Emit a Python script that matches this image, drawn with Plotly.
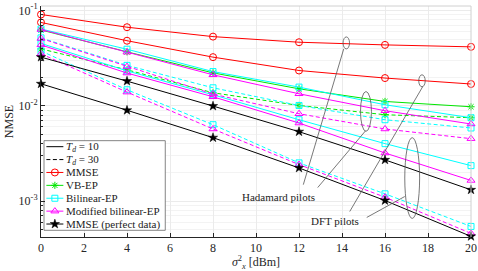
import numpy as np
import plotly.graph_objects as go

# ---------------- data ----------------
x_dbm = [0, 4, 8, 12, 16, 20]

mmse_hadamard = [0.0904, 0.0665, 0.0530, 0.0463, 0.0434, 0.0414]
mmse_dft = [0.0746, 0.0480, 0.0323, 0.0234, 0.0195, 0.0169]

vbep_td10 = [0.0622, 0.0367, 0.0221, 0.01505, 0.01109, 0.00976]
vbep_td30 = [0.0394, 0.0238, 0.01367, 0.01007, 0.00805, 0.00749]

bilinear_had_td10 = [0.0637, 0.0391, 0.0228, 0.01568, 0.01024, 0.00749]
bilinear_had_td30 = [0.0514, 0.0265, 0.01542, 0.01007, 0.00714, 0.00585]
bilinear_dft_td10 = [0.0450, 0.0232, 0.01303, 0.00714, 0.00401, 0.00236]
bilinear_dft_td30 = [0.0375, 0.01470, 0.00633, 0.00252, 0.001195, 0.000544]

modbil_had_td10 = [0.0630, 0.0364, 0.0211, 0.01335, 0.00887, 0.00644]
modbil_had_td30 = [0.0507, 0.0257, 0.01325, 0.00825, 0.00571, 0.00452]
modbil_dft_td10 = [0.0434, 0.0220, 0.01242, 0.00659, 0.00320, 0.00165]
modbil_dft_td30 = [0.0350, 0.01390, 0.00571, 0.00242, 0.001101, 0.000460]

perfect_upper = [0.0323, 0.01811, 0.00993, 0.00535, 0.00271, 0.001315]
perfect_lower = [0.01698, 0.00897, 0.00463, 0.00223, 0.001017, 0.000428]

legend_names = ["<i>T<sub>d</sub></i> = 10", "<i>T<sub>d</sub></i> = 30", "MMSE", "VB-EP",
                "Bilinear-EP", "Modified bilinear-EP", "MMSE (perfect data)"]
x_ticks = list(range(0, 21, 2))
y_ticks = [1e-3, 1e-2, 1e-1]
y_tick_text = ["10<sup>-3</sup>", "10<sup>-2</sup>", "10<sup>-1</sup>"]

# ---------------- styles ----------------
FONT = "Liberation Serif"
RED, GREEN, CYAN, MAG, BLK = "#ff0000", "#00e600", "#00ffff", "#ff00ff", "#000000"
DASH = "4px,2.5px"

sty = {
    "mmse": dict(color=RED, symbol="circle-open", size=7),
    "vbep": dict(color=GREEN, symbol="asterisk-open", size=6),
    "bil": dict(color=CYAN, symbol="square-open", size=6),
    "mod": dict(color=MAG, symbol="triangle-up-open", size=7),
    "perf": dict(color=BLK, symbol="star", size=7),
}

series = [
    (mmse_hadamard, "mmse", "solid"),
    (mmse_dft, "mmse", "solid"),
    (vbep_td10, "vbep", "solid"),
    (vbep_td30, "vbep", DASH),
    (bilinear_had_td10, "bil", "solid"),
    (bilinear_had_td30, "bil", DASH),
    (bilinear_dft_td10, "bil", "solid"),
    (bilinear_dft_td30, "bil", DASH),
    (modbil_had_td10, "mod", "solid"),
    (modbil_had_td30, "mod", DASH),
    (modbil_dft_td10, "mod", "solid"),
    (modbil_dft_td30, "mod", DASH),
    (perfect_upper, "perf", "solid"),
    (perfect_lower, "perf", "solid"),
]


def marker_for(key):
    s = sty[key]
    return dict(symbol=s["symbol"], size=s["size"], color=s["color"],
                line=dict(color=s["color"], width=1 if key != "perf" else 0.5))


fig = go.Figure()
for ys, key, dash in series:
    fig.add_trace(go.Scatter(
        x=x_dbm, y=ys, mode="lines+markers", showlegend=False,
        line=dict(color=sty[key]["color"], width=1, dash=dash),
        marker=marker_for(key), cliponaxis=False))

# ---------------- annotations (ellipses, pointer lines, labels) ----------------
ANN = "#555555"
ellipses = [  # (x0, x1, y0, y1) in data units
    (14.05, 14.35, 0.0394, 0.0526),
    (17.57, 17.87, 0.0158, 0.0211),
    (14.86, 15.37, 0.00539, 0.0141),
    (16.92, 17.61, 0.00066, 0.00463),
]
for x0, x1, y0, y1 in ellipses:
    fig.add_shape(type="circle", xref="x", yref="y", x0=x0, x1=x1, y0=y0, y1=y1,
                  line=dict(color=ANN, width=0.8))

pointers = [  # (xa, ya, xb, yb) in data units
    (14.08, 0.0394, 12.2, 0.00149),
    (15.1, 0.00548, 12.87, 0.00139),
    (17.75, 0.0158, 14.36, 0.00078),
    (16.92, 0.00112, 15.15, 0.000676),
]
for xa, ya, xb, yb in pointers:
    fig.add_shape(type="line", xref="x", yref="y", x0=xa, x1=xb, y0=ya, y1=yb,
                  line=dict(color=ANN, width=0.8))

fig.add_annotation(x=11.06, y=np.log10(0.0011), text="Hadamard pilots", showarrow=False,
                   font=dict(family=FONT, size=11, color="#222"))
fig.add_annotation(x=13.66, y=np.log10(0.000618), text="DFT pilots", showarrow=False,
                   font=dict(family=FONT, size=11, color="#222"))

# top/right light box edges
fig.add_shape(type="line", xref="paper", yref="paper", x0=0, x1=1, y0=1, y1=1,
              line=dict(color="#d0d0d0", width=1))
fig.add_shape(type="line", xref="paper", yref="paper", x0=1, x1=1, y0=0, y1=1,
              line=dict(color="#d0d0d0", width=1))

# ---------------- compact legend (box, samples, labels) on an overlay axis ----------------
LEG_X0, LEG_X1, LEG_Y0, LEG_Y1 = 0.007, 0.289, 0.029, 0.417
ROW_TOP, ROW_GAP = 0.391, 0.0558
SAMPLE_X0, SAMPLE_X1, TEXT_X = 0.0125, 0.052, 0.054
fig.add_trace(go.Scatter(
    x=[LEG_X0, LEG_X1, LEG_X1, LEG_X0, LEG_X0], y=[LEG_Y0, LEG_Y0, LEG_Y1, LEG_Y1, LEG_Y0],
    mode="lines", fill="toself", fillcolor="white", line=dict(color="#666666", width=0.8),
    xaxis="x2", yaxis="y2", showlegend=False, hoverinfo="skip"))
legend_keys = [None, None, "mmse", "vbep", "bil", "mod", "perf"]
legend_dash = ["solid", DASH, "solid", "solid", "solid", "solid", "solid"]
for i, (name, key, dash) in enumerate(zip(legend_names, legend_keys, legend_dash)):
    ry = ROW_TOP - i * ROW_GAP
    col = BLK if key is None else sty[key]["color"]
    fig.add_trace(go.Scatter(
        x=[SAMPLE_X0, SAMPLE_X1], y=[ry, ry], mode="lines",
        line=dict(color=col, width=1, dash=dash),
        xaxis="x2", yaxis="y2", showlegend=False, hoverinfo="skip"))
    if key is not None:
        fig.add_trace(go.Scatter(x=[(SAMPLE_X0 + SAMPLE_X1) / 2], y=[ry], mode="markers",
                                 xaxis="x2", yaxis="y2", showlegend=False,
                                 marker=marker_for(key), hoverinfo="skip"))
    fig.add_annotation(xref="paper", yref="paper", x=TEXT_X, y=ry, text=name,
                       showarrow=False, xanchor="left", yanchor="middle",
                       font=dict(family=FONT, size=11, color="#222"))

fig.update_layout(
    width=478, height=271,
    margin=dict(l=41, r=7, t=6, b=34, autoexpand=False),
    paper_bgcolor="white", plot_bgcolor="white",
    font=dict(family=FONT, size=12, color="#262626"),
    showlegend=False,
    xaxis=dict(range=[0, 20], tickvals=x_ticks, ticks="inside", ticklen=4,
               tickcolor="#262626", showline=True, linecolor="#262626", linewidth=1,
               showgrid=True, gridcolor="#ebebeb", gridwidth=1, zeroline=False,
               automargin=False,
               title=dict(text="<i>σ</i><sup>2</sup><sub><i>x</i></sub> [dBm]", standoff=2,
                          font=dict(family=FONT, size=12)),
               tickfont=dict(family=FONT, size=12)),
    yaxis=dict(type="log", range=[-3.375, -0.955], tickvals=y_ticks, ticktext=y_tick_text,
               ticks="inside", ticklen=4, tickcolor="#262626",
               showline=True, linecolor="#262626", linewidth=1,
               showgrid=True, gridcolor="#ebebeb", gridwidth=1, zeroline=False,
               automargin=False,
               minor=dict(dtick="D1", showgrid=True, gridcolor="#f3f3f3", ticks="inside",
                          ticklen=2, tickcolor="#262626"),
               title=dict(text="NMSE", standoff=2, font=dict(family=FONT, size=12)),
               tickfont=dict(family=FONT, size=12)),
    xaxis2=dict(overlaying="x", range=[0, 1], visible=False, fixedrange=True),
    yaxis2=dict(overlaying="y", range=[0, 1], visible=False, fixedrange=True),
)

fig.write_html("out.html", config={"displayModeBar": False},
               post_script="document.body.style.margin='0';")
